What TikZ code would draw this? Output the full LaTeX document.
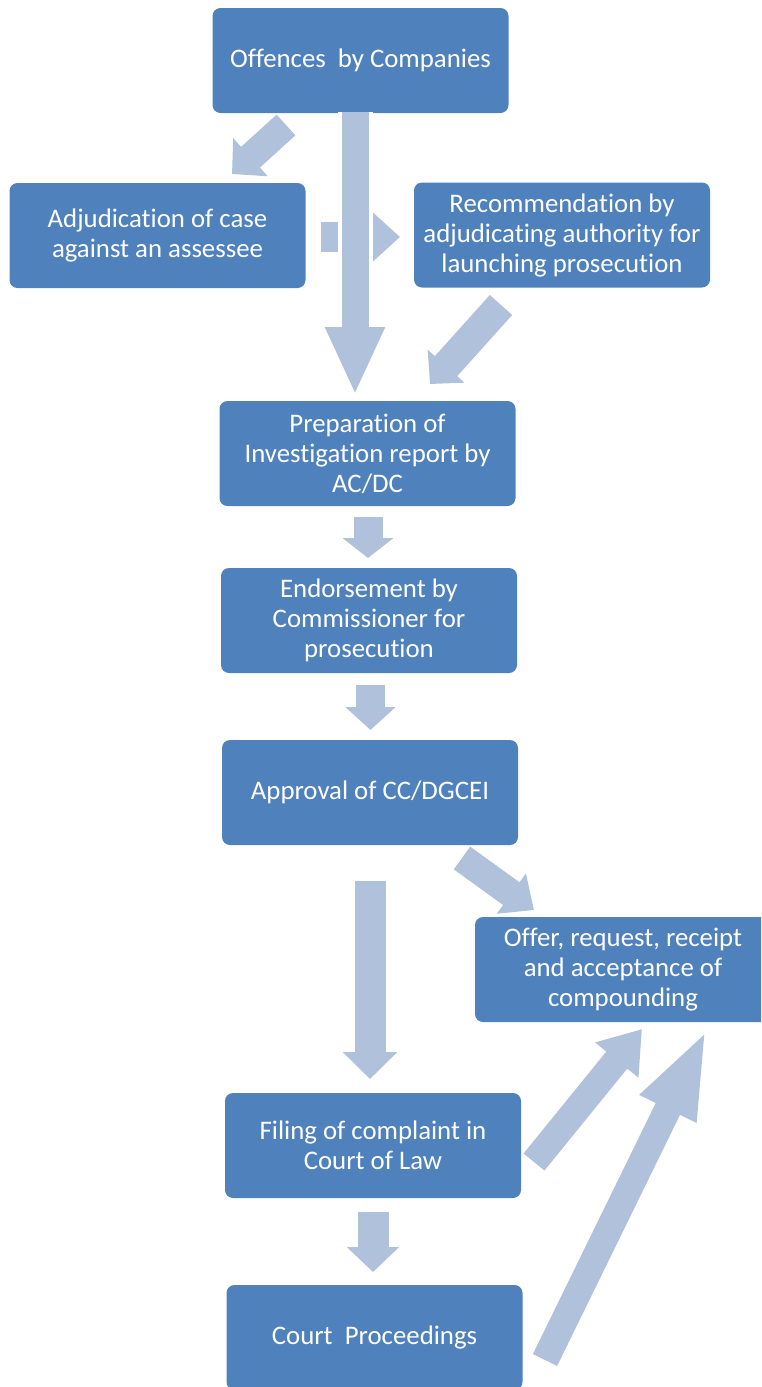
\documentclass[tikz,border=0pt]{standalone}
\usepackage{fontspec}
\setmainfont[Ligatures=NoCommon]{Carlito}
\usetikzlibrary{arrows.meta}
\definecolor{boxblue}{HTML}{4F81BD}
\definecolor{arrowblue}{HTML}{B0C1DC}
\tikzset{
  box/.style={fill=boxblue, rounded corners=8pt, text=white, align=center,
    minimum width=296pt, minimum height=105pt, inner sep=0pt,
    font=\fontsize{26.8}{30}\selectfont},
  blockarrow/.style n args={3}{draw=arrowblue, line width=#1,
    -{Triangle[width=#2, length=#3]}},
}
\begin{document}
\begin{tikzpicture}[x=1pt, y=-1pt]
      \useasboundingbox (0,0) rectangle (761,1387);
      \clip (0,0) rectangle (761,1387);
      \draw
        (360.5,60.5) node[box] (off){Offences~ by Companies}
        (157.5,235.5) node[box] (adj){Adjudication of case\\against an assessee}
        (562,235) node[box] (rec){Recommendation by\\adjudicating authority for\\launching prosecution}
        (367.5,453.5) node[box] (prep){Preparation of\\Investigation report by\\AC/DC}
        (369,620.5) node[box] (endo){Endorsement by\\Commissioner for\\prosecution}
        (370,792.5) node[box] (appr){Approval of CC/DGCEI}
        (623,969.5) node[box] (offer){Offer, request, receipt\\and acceptance of\\compounding}
        (373,1145.5) node[box] (fil){Filing of complaint in\\Court of Law}
        (374.5,1337.5) node[box] (court){Court~ Proceedings};
      % arrow ends
      \coordinate (offA) at (355,112);   \coordinate (prepA) at (355,395);
      \coordinate (offB) at (286,125);   \coordinate (adjB) at (232,174);
      \coordinate (adjC) at (321,237);   \coordinate (recC) at (400,237);
      \coordinate (recD) at (501,305);   \coordinate (prepD) at (430,384);
      \coordinate (prepE) at (368,517);  \coordinate (endoE) at (368,558);
      \coordinate (endoF) at (370.5,685); \coordinate (apprF) at (370.5,730);
      \coordinate (apprG) at (462,858);  \coordinate (offerG) at (534,910);
      \coordinate (apprH) at (370,881);  \coordinate (filH) at (370,1079);
      \coordinate (filI) at (373,1212);  \coordinate (courtI) at (373,1272);
      \coordinate (filJ) at (534,1162);  \coordinate (offerJ) at (642,1029);
      \coordinate (courtK) at (545,1360); \coordinate (offerK) at (707,1029);
      \begin{scope}
        \draw[blockarrow={30pt}{49pt}{28pt}] (adjC) to (recC);
        \draw[blockarrow={27pt}{55pt}{68pt},
          preaction={draw=white, line width=35pt, -}] (offA) to (prepA);
        \draw[blockarrow={28pt}{50pt}{25pt}] (offB) to (adjB);
        \draw[blockarrow={30pt}{48pt}{24pt}] (recD) to (prepD);
        \draw[blockarrow={29pt}{50pt}{20pt}] (prepE) to (endoE);
        \draw[blockarrow={29pt}{49pt}{23pt}] (endoF) to (apprF);
        \draw[blockarrow={28pt}{48pt}{28pt}] (apprG) to (offerG);
        \draw[blockarrow={31pt}{53pt}{27pt}] (apprH) to (filH);
        \draw[blockarrow={31pt}{51pt}{25pt}] (filI) to (courtI);
        \draw[blockarrow={27pt}{53pt}{40pt}] (filJ) to (offerJ);
        \draw[blockarrow={27pt}{56pt}{89pt}] (courtK) to (offerK);
      \end{scope}
    \end{tikzpicture}
\end{document}
